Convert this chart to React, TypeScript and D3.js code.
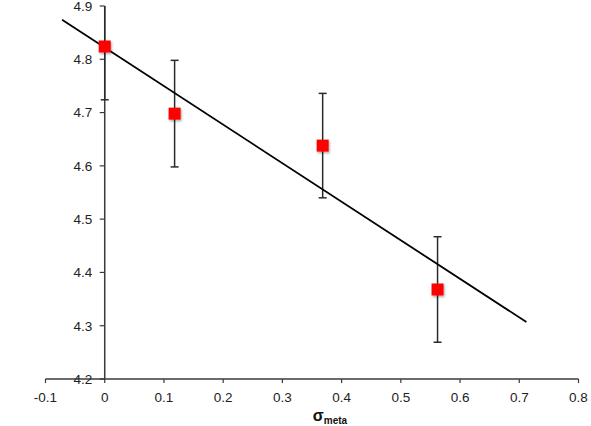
import React, { useEffect, useRef } from 'react';
import * as d3 from 'd3';

// sigma_meta values and measured means with error half-widths
const sigmaMeta = [0, 0.118, 0.368, 0.562];
const meanValues = [4.824, 4.698, 4.638, 4.368];
const errorValues = [0.1, 0.1, 0.098, 0.099];

// fitted line end points
const fitX = [-0.072, 0.712];
const fitY = [4.874, 4.307];

const xTicks = [-0.1, 0, 0.1, 0.2, 0.3, 0.4, 0.5, 0.6, 0.7, 0.8];
const yTicks = [4.2, 4.3, 4.4, 4.5, 4.6, 4.7, 4.8, 4.9];

const App: React.FC = () => {
  const svgRef = useRef<SVGSVGElement>(null);

  useEffect(() => {
    if (!svgRef.current) return;
    const svg = d3.select(svgRef.current);
    svg.selectAll("*").remove();

    const width = 591;
    const height = 426;
    svg.attr("width", width).attr("height", height);

    const x = d3.scaleLinear().domain([-0.1, 0.8]).range([45.5, 578.5]);
    const y = d3.scaleLinear().domain([4.2, 4.9]).range([379, 6]);

    const font = "'Liberation Sans', Arial, Helvetica, sans-serif";
    const axisColor = "#3a3a3a";

    // shadow for markers
    const defs = svg.append("defs");
    const filter = defs.append("filter").attr("id", "shadow")
      .attr("x", "-50%").attr("y", "-50%").attr("width", "200%").attr("height", "200%");
    filter.append("feDropShadow")
      .attr("dx", 1).attr("dy", 1.5).attr("stdDeviation", 1.2)
      .attr("flood-color", "#000").attr("flood-opacity", 0.35);

    // x axis
    const xAxisG = svg.append("g").attr("transform", `translate(0,${y(4.2)})`);
    xAxisG.append("line")
      .attr("x1", x(-0.1)).attr("x2", x(0.8))
      .attr("stroke", axisColor).attr("stroke-width", 1.5);
    xAxisG.selectAll("line.tick").data(xTicks).enter().append("line")
      .attr("class", "tick")
      .attr("x1", d => x(d)).attr("x2", d => x(d))
      .attr("y1", 0).attr("y2", 4)
      .attr("stroke", axisColor).attr("stroke-width", 1.2);
    xAxisG.selectAll("text").data(xTicks).enter().append("text")
      .attr("x", d => x(d)).attr("y", 22.5)
      .attr("text-anchor", "middle")
      .attr("font-family", font).attr("font-size", 13.5)
      .attr("fill", "#222")
      .text(d => String(d));

    // y axis (at x = 0)
    const yAxisG = svg.append("g").attr("transform", `translate(${x(0)},0)`);
    yAxisG.append("line")
      .attr("y1", y(4.2)).attr("y2", y(4.9))
      .attr("stroke", axisColor).attr("stroke-width", 1.5);
    yAxisG.selectAll("line.tick").data(yTicks).enter().append("line")
      .attr("class", "tick")
      .attr("x1", -5).attr("x2", 0)
      .attr("y1", d => y(d)).attr("y2", d => y(d))
      .attr("stroke", axisColor).attr("stroke-width", 1.2);
    yAxisG.selectAll("text").data(yTicks).enter().append("text")
      .attr("x", -12.5).attr("y", d => y(d))
      .attr("dy", "0.36em")
      .attr("text-anchor", "end")
      .attr("font-family", font).attr("font-size", 13.5)
      .attr("fill", "#222")
      .text(d => d.toFixed(1));

    // axis title
    const title = svg.append("text")
      .attr("x", 330).attr("y", 421)
      .attr("text-anchor", "middle")
      .attr("font-family", font).attr("font-weight", "bold")
      .attr("fill", "#111");
    title.append("tspan").attr("font-size", 16).text("σ");
    title.append("tspan").attr("font-size", 10).attr("dy", 3).text("meta");

    // clip to plot so upper error bar of first point is hidden above top
    defs.append("clipPath").attr("id", "plotClip")
      .append("rect").attr("x", 0).attr("y", y(4.9)).attr("width", width).attr("height", y(4.2) - y(4.9));

    const data = sigmaMeta.map((s, i) => ({ s, m: meanValues[i], e: errorValues[i] }));

    const bars = svg.append("g").attr("clip-path", "url(#plotClip)")
      .attr("stroke", "#2a2a2a").attr("stroke-width", 1.5);
    bars.selectAll("line.err").data(data).enter().append("line")
      .attr("class", "err")
      .attr("x1", d => x(d.s)).attr("x2", d => x(d.s))
      .attr("y1", d => y(d.m + d.e)).attr("y2", d => y(d.m - d.e));
    bars.selectAll("line.capTop").data(data).enter().append("line")
      .attr("class", "capTop")
      .attr("x1", d => x(d.s) - 4).attr("x2", d => x(d.s) + 4)
      .attr("y1", d => y(d.m + d.e)).attr("y2", d => y(d.m + d.e));
    bars.selectAll("line.capBot").data(data).enter().append("line")
      .attr("class", "capBot")
      .attr("x1", d => x(d.s) - 4).attr("x2", d => x(d.s) + 4)
      .attr("y1", d => y(d.m - d.e)).attr("y2", d => y(d.m - d.e));

    // fitted line
    const line = d3.line<number>()
      .x((d, i) => x(fitX[i]))
      .y(d => y(d));
    svg.append("path")
      .attr("d", line(fitY) as string)
      .attr("fill", "none")
      .attr("stroke", "#000")
      .attr("stroke-width", 1.8);

    // markers
    const size = 12;
    svg.append("g").selectAll("rect").data(data).enter().append("rect")
      .attr("x", d => x(d.s) - size / 2)
      .attr("y", d => y(d.m) - size / 2)
      .attr("width", size).attr("height", size)
      .attr("fill", "#ff0000")
      .attr("filter", "url(#shadow)");
  }, []);

  return <svg ref={svgRef} style={{ position: 'absolute', left: 0, top: 0 }} />;
};

export default App;
